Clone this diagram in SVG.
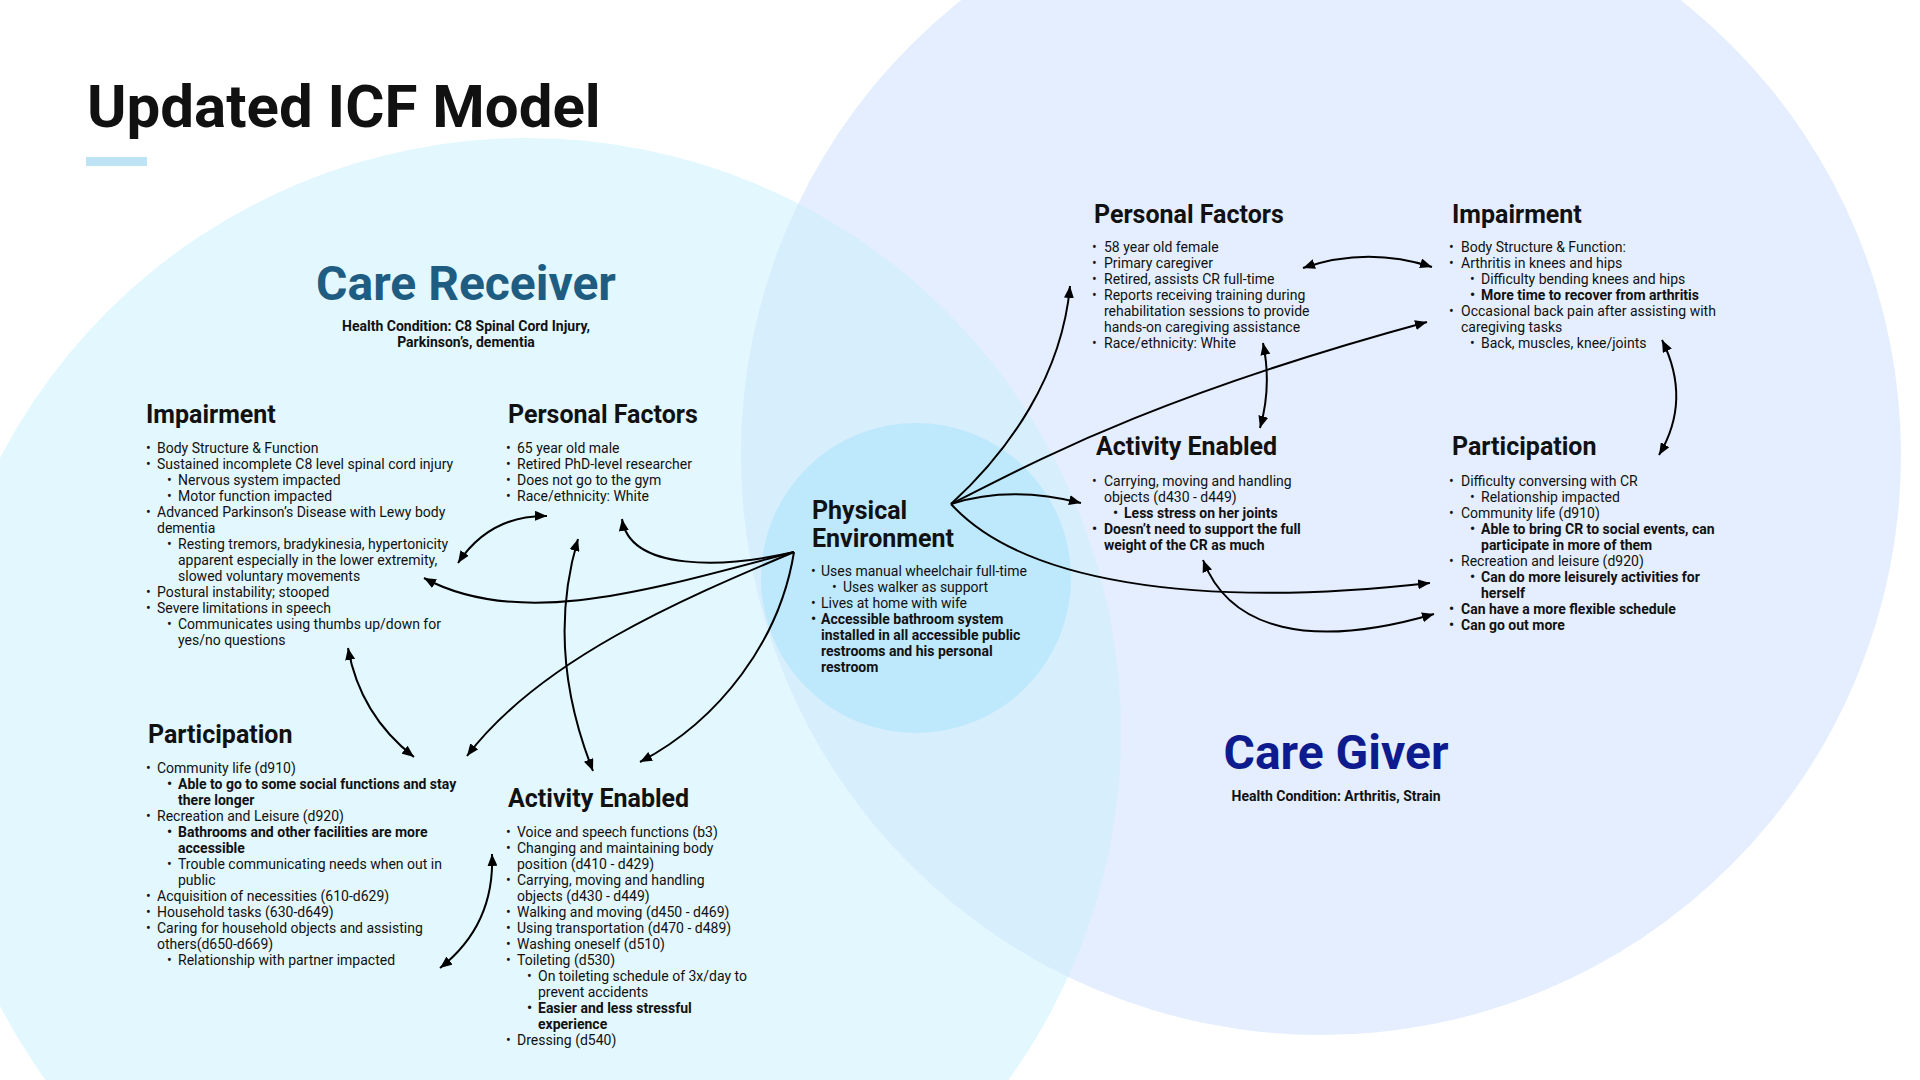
<svg xmlns="http://www.w3.org/2000/svg" width="1920" height="1080" viewBox="0 0 1920 1080">
<defs>
<style>
text{font-family:Roboto,"Liberation Sans",sans-serif;fill:#111;}
.t{font-size:14px;}
.b{font-weight:bold;}
.h{font-size:25px;font-weight:bold;}
.big{font-size:48px;font-weight:bold;text-anchor:middle;}
.hc{font-size:14px;font-weight:bold;text-anchor:middle;}
.c{fill:none;stroke:#000;stroke-width:2;marker-end:url(#ah);}
.bi{marker-start:url(#ah);}
</style>
<marker id="ah" viewBox="0 0 12 10" refX="12" refY="5" markerWidth="12" markerHeight="10" markerUnits="userSpaceOnUse" orient="auto-start-reverse">
<path d="M0,0 L12,5 L0,10 z" fill="#000"/>
</marker>
<clipPath id="cgclip"><circle cx="1321" cy="455" r="580"/></clipPath>
</defs>
<rect width="1920" height="1080" fill="#fff"/>
<g id="backgrounds">
<circle cx="527" cy="732" r="594" fill="#e2f7fe"/>
<circle cx="1321" cy="455" r="580" fill="#e4eefe"/>
<circle cx="527" cy="732" r="594" fill="#d7eefd" clip-path="url(#cgclip)"/>
<circle cx="916" cy="578" r="155" fill="#bee8fb"/>
</g>
<g id="title">
<text x="87" y="127" style="font-size:60px;font-weight:bold">Updated ICF Model</text>
<rect x="86" y="157" width="61" height="9" fill="#bee3f5"/>
</g>
<g id="care-receiver-label">
<text class="big" x="466" y="300" style="fill:#1f5c82">Care Receiver</text>
<text class="hc" x="466" y="331">Health Condition: C8 Spinal Cord Injury,</text>
<text class="hc" x="466" y="347">Parkinson’s, dementia</text>
</g>
<g id="care-giver-label">
<text class="big" x="1336" y="769" style="fill:#0d1b8e">Care Giver</text>
<text class="hc" x="1336" y="801">Health Condition: Arthritis, Strain</text>
</g>
<g id="cr-impairment">
<text class="h" x="146" y="423">Impairment</text>
<g class="t">
<text x="146" y="453">•</text><text x="157" y="453">Body Structure &amp; Function</text>
<text x="146" y="469">•</text><text x="157" y="469">Sustained incomplete C8 level spinal cord injury</text>
<text x="167" y="485">•</text><text x="178" y="485">Nervous system impacted</text>
<text x="167" y="501">•</text><text x="178" y="501">Motor function impacted</text>
<text x="146" y="517">•</text><text x="157" y="517">Advanced Parkinson’s Disease with Lewy body</text>
<text x="157" y="533">dementia</text>
<text x="167" y="549">•</text><text x="178" y="549">Resting tremors, bradykinesia, hypertonicity</text>
<text x="178" y="565">apparent especially in the lower extremity,</text>
<text x="178" y="581">slowed voluntary movements</text>
<text x="146" y="597">•</text><text x="157" y="597">Postural instability; stooped</text>
<text x="146" y="613">•</text><text x="157" y="613">Severe limitations in speech</text>
<text x="167" y="629">•</text><text x="178" y="629">Communicates using thumbs up/down for</text>
<text x="178" y="645">yes/no questions</text>
</g>
</g>
<g id="cr-personal-factors">
<text class="h" x="508" y="423">Personal Factors</text>
<g class="t">
<text x="506" y="453">•</text><text x="517" y="453">65 year old male</text>
<text x="506" y="469">•</text><text x="517" y="469">Retired PhD-level researcher</text>
<text x="506" y="485">•</text><text x="517" y="485">Does not go to the gym</text>
<text x="506" y="501">•</text><text x="517" y="501">Race/ethnicity: White</text>
</g>
</g>
<g id="cr-participation">
<text class="h" x="148" y="743">Participation</text>
<g class="t">
<text x="146" y="773">•</text><text x="157" y="773">Community life (d910)</text>
<text x="167" y="789" class="b">•</text><text x="178" y="789" class="b">Able to go to some social functions and stay</text>
<text x="178" y="805" class="b">there longer</text>
<text x="146" y="821">•</text><text x="157" y="821">Recreation and Leisure (d920)</text>
<text x="167" y="837" class="b">•</text><text x="178" y="837" class="b">Bathrooms and other facilities are more</text>
<text x="178" y="853" class="b">accessible</text>
<text x="167" y="869">•</text><text x="178" y="869">Trouble communicating needs when out in</text>
<text x="178" y="885">public</text>
<text x="146" y="901">•</text><text x="157" y="901">Acquisition of necessities (610-d629)</text>
<text x="146" y="917">•</text><text x="157" y="917">Household tasks (630-d649)</text>
<text x="146" y="933">•</text><text x="157" y="933">Caring for household objects and assisting</text>
<text x="157" y="949">others(d650-d669)</text>
<text x="167" y="965">•</text><text x="178" y="965">Relationship with partner impacted</text>
</g>
</g>
<g id="cr-activity-enabled">
<text class="h" x="508" y="807">Activity Enabled</text>
<g class="t">
<text x="506" y="837">•</text><text x="517" y="837">Voice and speech functions (b3)</text>
<text x="506" y="853">•</text><text x="517" y="853">Changing and maintaining body</text>
<text x="517" y="869">position (d410 - d429)</text>
<text x="506" y="885">•</text><text x="517" y="885">Carrying, moving and handling</text>
<text x="517" y="901">objects (d430 - d449)</text>
<text x="506" y="917">•</text><text x="517" y="917">Walking and moving (d450 - d469)</text>
<text x="506" y="933">•</text><text x="517" y="933">Using transportation (d470 - d489)</text>
<text x="506" y="949">•</text><text x="517" y="949">Washing oneself (d510)</text>
<text x="506" y="965">•</text><text x="517" y="965">Toileting (d530)</text>
<text x="527" y="981">•</text><text x="538" y="981">On toileting schedule of 3x/day to</text>
<text x="538" y="997">prevent accidents</text>
<text x="527" y="1013" class="b">•</text><text x="538" y="1013" class="b">Easier and less stressful</text>
<text x="538" y="1029" class="b">experience</text>
<text x="506" y="1045">•</text><text x="517" y="1045">Dressing (d540)</text>
</g>
</g>
<g id="physical-environment">
<text class="h" x="812" y="519">Physical</text>
<text class="h" x="812" y="547">Environment</text>
<g class="t">
<text x="811" y="576">•</text><text x="821" y="576">Uses manual wheelchair full-time</text>
<text x="832" y="592">•</text><text x="843" y="592">Uses walker as support</text>
<text x="811" y="608">•</text><text x="821" y="608">Lives at home with wife</text>
<text x="811" y="624" class="b">•</text><text x="821" y="624" class="b">Accessible bathroom system</text>
<text x="821" y="640" class="b">installed in all accessible public</text>
<text x="821" y="656" class="b">restrooms and his personal</text>
<text x="821" y="672" class="b">restroom</text>
</g>
</g>
<g id="cg-personal-factors">
<text class="h" x="1094" y="223">Personal Factors</text>
<g class="t">
<text x="1092" y="252">•</text><text x="1104" y="252">58 year old female</text>
<text x="1092" y="268">•</text><text x="1104" y="268">Primary caregiver</text>
<text x="1092" y="284">•</text><text x="1104" y="284">Retired, assists CR full-time</text>
<text x="1092" y="300">•</text><text x="1104" y="300">Reports receiving training during</text>
<text x="1104" y="316">rehabilitation sessions to provide</text>
<text x="1104" y="332">hands-on caregiving assistance</text>
<text x="1092" y="348">•</text><text x="1104" y="348">Race/ethnicity: White</text>
</g>
</g>
<g id="cg-impairment">
<text class="h" x="1452" y="223">Impairment</text>
<g class="t">
<text x="1449" y="252">•</text><text x="1461" y="252">Body Structure &amp; Function:</text>
<text x="1449" y="268">•</text><text x="1461" y="268">Arthritis in knees and hips</text>
<text x="1470" y="284">•</text><text x="1481" y="284">Difficulty bending knees and hips</text>
<text x="1470" y="300" class="b">•</text><text x="1481" y="300" class="b">More time to recover from arthritis</text>
<text x="1449" y="316">•</text><text x="1461" y="316">Occasional back pain after assisting with</text>
<text x="1461" y="332">caregiving tasks</text>
<text x="1470" y="348">•</text><text x="1481" y="348">Back, muscles, knee/joints</text>
</g>
</g>
<g id="cg-activity-enabled">
<text class="h" x="1096" y="455">Activity Enabled</text>
<g class="t">
<text x="1092" y="486">•</text><text x="1104" y="486">Carrying, moving and handling</text>
<text x="1104" y="502">objects (d430 - d449)</text>
<text x="1113" y="518" class="b">•</text><text x="1124" y="518" class="b">Less stress on her joints</text>
<text x="1092" y="534" class="b">•</text><text x="1104" y="534" class="b">Doesn’t need to support the full</text>
<text x="1104" y="550" class="b">weight of the CR as much</text>
</g>
</g>
<g id="cg-participation">
<text class="h" x="1452" y="455">Participation</text>
<g class="t">
<text x="1449" y="486">•</text><text x="1461" y="486">Difficulty conversing with CR</text>
<text x="1470" y="502">•</text><text x="1481" y="502">Relationship impacted</text>
<text x="1449" y="518">•</text><text x="1461" y="518">Community life (d910)</text>
<text x="1470" y="534" class="b">•</text><text x="1481" y="534" class="b">Able to bring CR to social events, can</text>
<text x="1481" y="550" class="b">participate in more of them</text>
<text x="1449" y="566">•</text><text x="1461" y="566">Recreation and leisure (d920)</text>
<text x="1470" y="582" class="b">•</text><text x="1481" y="582" class="b">Can do more leisurely activities for</text>
<text x="1481" y="598" class="b">herself</text>
<text x="1449" y="614" class="b">•</text><text x="1461" y="614" class="b">Can have a more flexible schedule</text>
<text x="1449" y="630" class="b">•</text><text x="1461" y="630" class="b">Can go out more</text>
</g>
</g>
<g id="connectors">
<path class="c" d="M794,552 C725,568 630,572 622,519"/>
<path class="c" d="M794,552 C650,590 520,630 424,578"/>
<path class="c" d="M794,552 C680,600 540,660 467,756"/>
<path class="c" d="M794,552 C780,640 720,720 640,762"/>
<path class="c bi" d="M458,563 Q490,515 547,516"/>
<path class="c bi" d="M578,539 Q545,650 593,771"/>
<path class="c bi" d="M348,648 Q360,715 414,757"/>
<path class="c bi" d="M492,854 Q495,925 440,968"/>
<path class="c" d="M951,504 C1010,450 1062,375 1070,286"/>
<path class="c" d="M951,504 C1020,470 1140,400 1427,322"/>
<path class="c" d="M951,504 Q1010,485 1081,503"/>
<path class="c" d="M951,504 C1020,580 1190,610 1430,583"/>
<path class="c bi" d="M1303,268 Q1367,246 1432,267"/>
<path class="c bi" d="M1263,343 Q1272,386 1260,428"/>
<path class="c bi" d="M1662,340 Q1692,400 1659,455"/>
<path class="c bi" d="M1203,560 C1230,630 1310,650 1434,614"/>
</g>
</svg>
